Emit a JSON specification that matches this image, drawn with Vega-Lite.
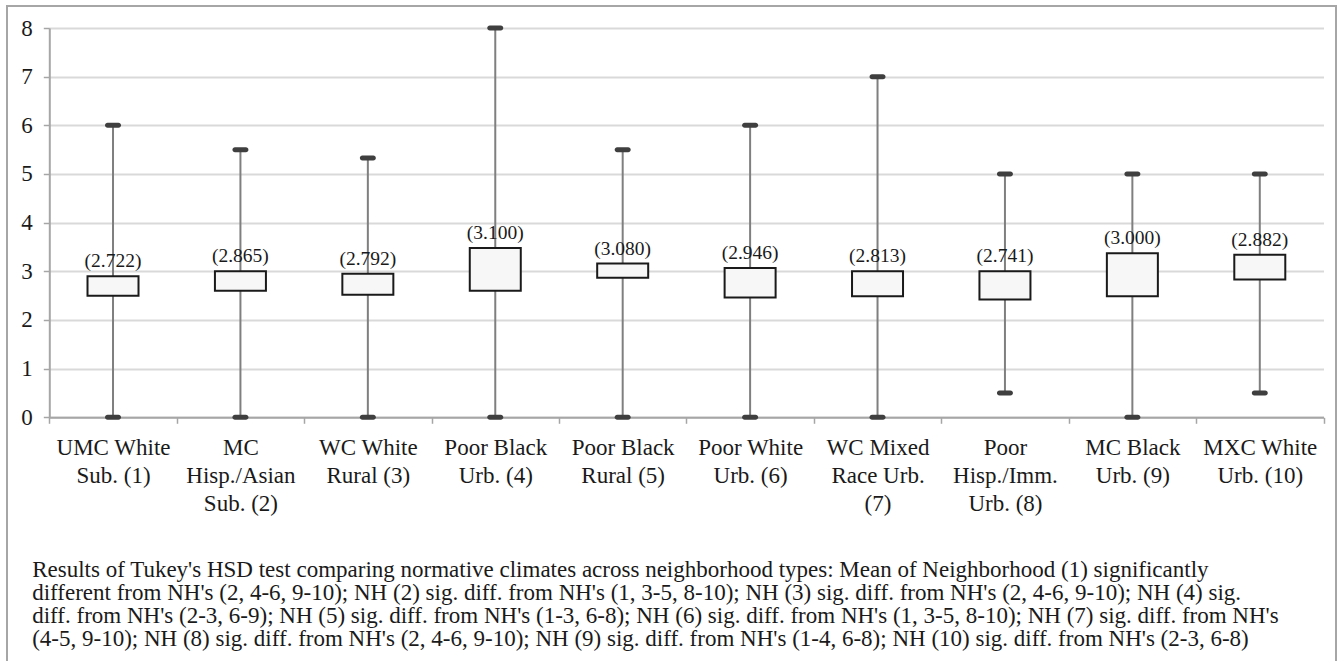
{
  "$schema": "https://vega.github.io/schema/vega-lite/v6.json",
  "autosize": {"type": "none"},
  "padding": {"left": 7, "top": 6, "right": 5, "bottom": -4},
  "width": 1329,
  "height": 659,
  "background": "white",
  "config": {
    "view": {"stroke": "#a6a6a6", "strokeWidth": 2},
    "font": "Liberation Serif"
  },
  "data": {
    "values": [
      {"nh": "UMC White\nSub. (1)", "min": 0, "q1": 2.5, "q3": 2.9, "max": 6, "mean": "(2.722)"},
      {"nh": "MC\nHisp./Asian\nSub. (2)", "min": 0, "q1": 2.6, "q3": 3.0, "max": 5.5, "mean": "(2.865)"},
      {"nh": "WC White\nRural (3)", "min": 0, "q1": 2.52, "q3": 2.95, "max": 5.33, "mean": "(2.792)"},
      {"nh": "Poor Black\nUrb. (4)", "min": 0, "q1": 2.6, "q3": 3.48, "max": 8, "mean": "(3.100)"},
      {"nh": "Poor Black\nRural (5)", "min": 0, "q1": 2.87, "q3": 3.16, "max": 5.5, "mean": "(3.080)"},
      {"nh": "Poor White\nUrb. (6)", "min": 0, "q1": 2.46, "q3": 3.07, "max": 6, "mean": "(2.946)"},
      {"nh": "WC Mixed\nRace Urb.\n(7)", "min": 0, "q1": 2.49, "q3": 3.0, "max": 7, "mean": "(2.813)"},
      {"nh": "Poor\nHisp./Imm.\nUrb. (8)", "min": 0.5, "q1": 2.42, "q3": 3.0, "max": 5, "mean": "(2.741)"},
      {"nh": "MC Black\nUrb. (9)", "min": 0, "q1": 2.49, "q3": 3.37, "max": 5, "mean": "(3.000)"},
      {"nh": "MXC White\nUrb. (10)", "min": 0.5, "q1": 2.83, "q3": 3.34, "max": 5, "mean": "(2.882)"}
    ]
  },
  "encoding": {
    "x": {
      "field": "nh",
      "type": "nominal",
      "sort": null,
      "scale": {"range": [42.3, 1316.5], "paddingInner": 0, "paddingOuter": 0},
      "axis": {
        "orient": "bottom",
        "offset": -247.7,
        "tickBand": "extent",
        "grid": false,
        "domainColor": "#a6a6a6",
        "domainWidth": 2,
        "tickColor": "#a6a6a6",
        "tickWidth": 1.5,
        "tickSize": 6,
        "labelAngle": 0,
        "labelFont": "Liberation Serif",
        "labelFontSize": 23,
        "labelLineHeight": 28,
        "labelPadding": 13,
        "labelColor": "#1a1a1a",
        "labelOverlap": false,
        "labelLimit": 400,
        "labelExpr": "split(datum.label, '\\n')",
        "title": [
          "Results of Tukey's HSD test comparing normative climates across neighborhood types: Mean of Neighborhood (1) significantly",
          "different from NH's (2, 4-6, 9-10); NH (2) sig. diff. from NH's (1, 3-5, 8-10); NH (3) sig. diff. from NH's (2, 4-6, 9-10); NH (4) sig.",
          "diff. from NH's (2-3, 6-9); NH (5) sig. diff. from NH's (1-3, 6-8); NH (6) sig. diff. from NH's (1, 3-5, 8-10); NH (7) sig. diff. from NH's",
          "(4-5, 9-10); NH (8) sig. diff. from NH's (2, 4-6, 9-10); NH (9) sig. diff. from NH's (1-4, 6-8); NH (10) sig. diff. from NH's (2-3, 6-8)"
        ],
        "titleFont": "Liberation Serif",
        "titleFontSize": 23,
        "titleFontWeight": "normal",
        "titleColor": "#1a1a1a",
        "titleAlign": "left",
        "titleBaseline": "alphabetic",
        "titleAnchor": "start",
        "titleX": 24.7,
        "titleY": 159.4,
        "titleLineHeight": 23
      }
    }
  },
  "layer": [
    {
      "mark": {"type": "rule", "color": "#7f7f7f", "strokeWidth": 2},
      "encoding": {
        "y": {
          "field": "min",
          "type": "quantitative",
          "scale": {"domain": [0, 8], "range": [411.3, 22], "nice": false, "zero": false},
          "axis": {
            "orient": "left",
            "offset": -42.3,
            "values": [0, 1, 2, 3, 4, 5, 6, 7, 8],
            "format": "d",
            "grid": true,
            "gridColor": "#d9d9d9",
            "gridWidth": 2,
            "domainColor": "#a6a6a6",
            "domainWidth": 2,
            "tickColor": "#a6a6a6",
            "tickWidth": 1.5,
            "tickSize": 6,
            "labelFont": "Liberation Serif",
            "labelFontSize": 23,
            "labelColor": "#1a1a1a",
            "labelPadding": 11,
            "title": null
          }
        },
        "y2": {"field": "max"}
      }
    },
    {
      "mark": {"type": "tick", "orient": "horizontal", "size": 16, "thickness": 5, "color": "#3f3f3f", "cornerRadius": 2.5, "opacity": 1},
      "encoding": {"y": {"field": "max", "type": "quantitative"}}
    },
    {
      "mark": {"type": "tick", "orient": "horizontal", "size": 16, "thickness": 5, "color": "#3f3f3f", "cornerRadius": 2.5, "opacity": 1},
      "encoding": {"y": {"field": "min", "type": "quantitative"}}
    },
    {
      "mark": {"type": "bar", "width": 51, "fill": "#f7f7f7", "stroke": "#1a1a1a", "strokeWidth": 2},
      "encoding": {
        "y": {"field": "q1", "type": "quantitative"},
        "y2": {"field": "q3"}
      }
    },
    {
      "mark": {"type": "text", "baseline": "middle", "dy": -15, "fontSize": 19.5, "font": "Liberation Serif", "color": "#1a1a1a"},
      "encoding": {
        "y": {"field": "q3", "type": "quantitative"},
        "text": {"field": "mean"}
      }
    }
  ]
}
